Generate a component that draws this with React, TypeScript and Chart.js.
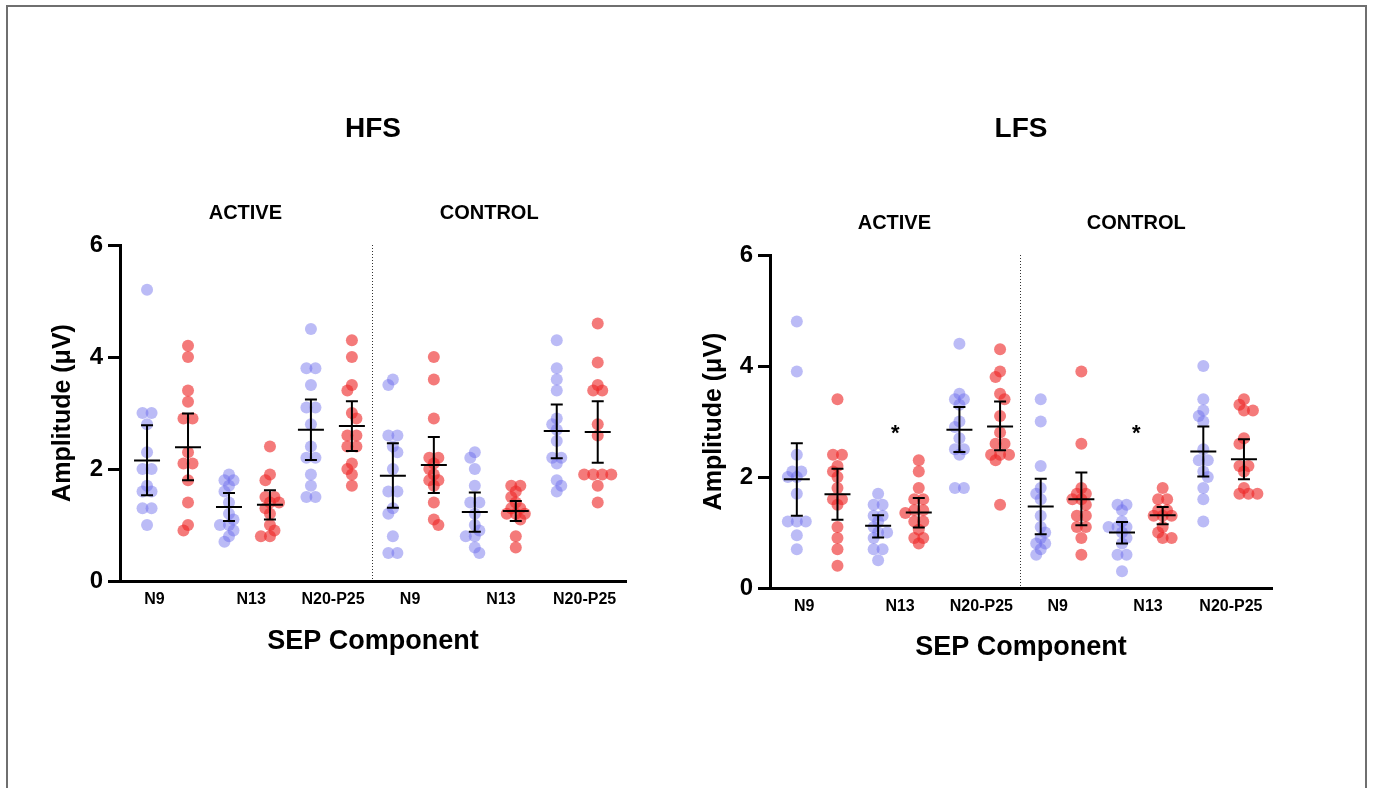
import React, { useEffect, useRef } from "react";
import { Chart, registerables } from "chart.js";

Chart.register(...registerables);

const FONT = "'Liberation Sans', Arial, Helvetica, sans-serif";

// ---------- data ----------
const CONDITIONS = ["ACTIVE", "CONTROL"];
const TICK_LABELS = ["N9", "N13", "N20-P25", "N9", "N13", "N20-P25"];
const TICK_POS = [0.18, 2.54, 4.54, 6.42, 8.64, 10.68];
const CONDITION_LABEL_POS = [2.4, 8.35];
const DIVIDER_POS = 5.5;

// group order: ACTIVE N9, N13, N20-P25, CONTROL N9, N13, N20-P25
const HFS_BLUE: number[][] = [
  [5.2, 3.0, 3.0, 2.8, 2.3, 2.0, 2.0, 1.7, 1.6, 1.6, 1.3, 1.3, 1.0],
  [1.9, 1.8, 1.8, 1.7, 1.6, 1.4, 1.2, 1.1, 1.0, 1.0, 0.9, 0.8, 0.7],
  [4.5, 3.8, 3.8, 3.5, 3.1, 3.1, 2.8, 2.4, 2.2, 2.2, 1.9, 1.7, 1.5, 1.5],
  [3.6, 3.5, 2.6, 2.6, 2.4, 2.3, 2.0, 1.6, 1.6, 1.3, 1.2, 0.8, 0.5, 0.5],
  [2.3, 2.2, 2.0, 1.7, 1.4, 1.4, 1.2, 1.0, 0.9, 0.8, 0.8, 0.6, 0.5],
  [4.3, 3.8, 3.6, 3.4, 2.9, 2.8, 2.7, 2.5, 2.2, 2.2, 2.1, 1.8, 1.7, 1.6],
];
const HFS_RED: number[][] = [
  [4.2, 4.0, 3.4, 3.2, 2.9, 2.9, 2.3, 2.1, 2.1, 1.8, 1.4, 1.0, 0.9],
  [2.4, 1.9, 1.8, 1.5, 1.5, 1.4, 1.4, 1.3, 1.2, 1.0, 0.9, 0.8, 0.8],
  [4.3, 4.0, 3.5, 3.4, 3.0, 2.9, 2.6, 2.6, 2.4, 2.4, 2.1, 2.0, 1.9, 1.7],
  [4.0, 3.6, 2.9, 2.2, 2.2, 2.1, 2.0, 1.9, 1.8, 1.8, 1.7, 1.4, 1.1, 1.0],
  [1.7, 1.7, 1.6, 1.5, 1.4, 1.3, 1.3, 1.2, 1.2, 1.2, 1.1, 0.8, 0.6],
  [4.6, 3.9, 3.5, 3.4, 3.4, 2.8, 2.6, 1.9, 1.9, 1.9, 1.9, 1.7, 1.4],
];
const LFS_BLUE: number[][] = [
  [4.8, 3.9, 2.4, 2.1, 2.1, 2.0, 2.0, 1.7, 1.2, 1.2, 1.2, 0.95, 0.7],
  [1.7, 1.5, 1.5, 1.3, 1.3, 1.2, 1.1, 1.0, 1.0, 0.9, 0.7, 0.7, 0.5],
  [4.4, 3.5, 3.4, 3.4, 3.3, 3.0, 2.9, 2.7, 2.5, 2.5, 2.4, 1.8, 1.8],
  [3.4, 3.0, 2.2, 1.8, 1.7, 1.6, 1.3, 1.1, 1.0, 0.9, 0.8, 0.8, 0.7, 0.6],
  [1.5, 1.5, 1.4, 1.2, 1.1, 1.1, 1.1, 1.0, 0.9, 0.8, 0.6, 0.6, 0.3],
  [4.0, 3.4, 3.2, 3.1, 3.0, 2.5, 2.3, 2.3, 2.1, 2.0, 1.8, 1.6, 1.2],
];
const LFS_RED: number[][] = [
  [3.4, 2.4, 2.4, 2.2, 2.1, 2.0, 1.8, 1.6, 1.6, 1.5, 1.1, 0.9, 0.7, 0.4],
  [2.3, 2.1, 1.8, 1.6, 1.6, 1.4, 1.4, 1.35, 1.2, 1.2, 1.05, 0.9, 0.9, 0.8],
  [4.3, 3.9, 3.8, 3.5, 3.4, 3.1, 2.8, 2.6, 2.6, 2.4, 2.4, 2.4, 2.3, 1.5],
  [3.9, 2.6, 1.8, 1.7, 1.7, 1.6, 1.6, 1.5, 1.3, 1.3, 1.1, 1.1, 0.9, 0.6],
  [1.8, 1.6, 1.6, 1.4, 1.4, 1.3, 1.3, 1.3, 1.1, 1.0, 0.9, 0.9],
  [3.4, 3.3, 3.2, 3.2, 2.7, 2.6, 2.2, 2.2, 2.1, 1.8, 1.7, 1.7, 1.7],
];

// mean and 95% CI, in position order (blue, red for each component)
const HFS_MEAN = [2.15, 2.39, 1.32, 1.36, 2.70, 2.77, 1.88, 2.07, 1.23, 1.25, 2.68, 2.66];
const HFS_CI_LO = [1.53, 1.80, 1.07, 1.10, 2.16, 2.32, 1.31, 1.57, 0.88, 1.07, 2.19, 2.11];
const HFS_CI_HI = [2.78, 2.99, 1.57, 1.62, 3.24, 3.21, 2.46, 2.57, 1.58, 1.43, 3.15, 3.21];
const LFS_MEAN = [1.96, 1.69, 1.12, 1.36, 2.85, 2.91, 1.47, 1.60, 1.00, 1.31, 2.46, 2.32];
const LFS_CI_LO = [1.30, 1.23, 0.91, 1.09, 2.45, 2.48, 0.97, 1.13, 0.80, 1.15, 2.01, 1.96];
const LFS_CI_HI = [2.61, 2.15, 1.31, 1.62, 3.26, 3.36, 1.97, 2.08, 1.19, 1.46, 2.91, 2.68];

// significance marks (LFS only)
const LFS_SIG_X = [2.42, 8.35];
const LFS_SIG_Y = 2.85;

// ---------- helpers ----------
type Pt = { x: number; y: number };

// deterministic beeswarm layout (pixel-space collision avoidance, bounded width)
function swarm(values: number[], center: number, pxX: number, pxY: number): Pt[] {
  const step = 9;
  const minDist = 7;
  const sorted = [...values].sort((a, b) => b - a);
  const rows: number[][] = [];
  sorted.forEach((v) => {
    const last = rows[rows.length - 1];
    if (last && Math.abs(last[0] - v) < 1e-6) last.push(v);
    else rows.push([v]);
  });
  const placed: { ox: number; v: number }[] = [];
  const mags = [0, 4.5, 9, 13.5];
  rows.forEach((row) => {
    const k = row.length;
    const base = row.map((_, j) => (j - (k - 1) / 2) * step);
    const left = placed.filter((q) => q.ox < -0.1).length;
    const right = placed.filter((q) => q.ox > 0.1).length;
    const firstSign = left <= right ? -1 : 1;
    const shifts: number[] = [];
    mags.forEach((m) => {
      if (m === 0) shifts.push(0);
      else {
        shifts.push(firstSign * m);
        shifts.push(-firstSign * m);
      }
    });
    let chosen = 0;
    let bestScore = -1;
    let found = false;
    for (const s of shifts) {
      let dmin = Infinity;
      base.forEach((b) =>
        placed.forEach((q) => {
          const dx = b + s - q.ox;
          const dy = (row[0] - q.v) * pxY;
          dmin = Math.min(dmin, Math.sqrt(dx * dx + dy * dy));
        })
      );
      if (dmin >= minDist) {
        chosen = s;
        found = true;
        break;
      }
      if (dmin > bestScore) {
        bestScore = dmin;
        chosen = s;
      }
    }
    if (!found && bestScore < 0) chosen = 0;
    base.forEach((b) => placed.push({ ox: b + chosen, v: row[0] }));
  });
  return placed.map((q) => ({ x: center + q.ox / pxX, y: q.v }));
}

function buildPoints(groups: number[][], offset: number, pxX: number, pxY: number): Pt[] {
  const out: Pt[] = [];
  groups.forEach((g, i) => out.push(...swarm(g, 2 * i + offset, pxX, pxY)));
  return out;
}

interface PanelSpec {
  title: string;
  blue: number[][];
  red: number[][];
  mean: number[];
  lo: number[];
  hi: number[];
  sigX: number[];
  sigY: number;
  padding: { left: number; right: number; top: number; bottom: number };
  titlePad: { top: number; bottom: number };
  yWidth: number;
  yTitlePad: number;
  xHeight: number;
  pxY: number;
}

function makeConfig(p: PanelSpec): any {
  const annot = {
    id: "annot" + p.title,
    beforeDatasetsDraw(chart: any) {
      const { ctx, chartArea, scales } = chart;
      const x = scales.x.getPixelForValue(DIVIDER_POS);
      ctx.save();
      ctx.strokeStyle = "#333";
      ctx.lineWidth = 1;
      ctx.setLineDash([1, 2]);
      ctx.beginPath();
      ctx.moveTo(Math.round(x) + 0.5, chartArea.top);
      ctx.lineTo(Math.round(x) + 0.5, chartArea.bottom);
      ctx.stroke();
      ctx.restore();
    },
    afterDatasetsDraw(chart: any) {
      const { ctx, chartArea, scales } = chart;
      const xs = scales.x;
      const ys = scales.y;
      ctx.save();
      ctx.strokeStyle = "#000";
      ctx.lineWidth = 2;
      ctx.setLineDash([]);
      for (let i = 0; i < p.mean.length; i++) {
        const x = xs.getPixelForValue(i);
        const ym = ys.getPixelForValue(p.mean[i]);
        const yl = ys.getPixelForValue(p.lo[i]);
        const yh = ys.getPixelForValue(p.hi[i]);
        ctx.beginPath();
        ctx.moveTo(x - 13, ym);
        ctx.lineTo(x + 13, ym);
        ctx.moveTo(x, yl);
        ctx.lineTo(x, yh);
        ctx.moveTo(x - 6, yl);
        ctx.lineTo(x + 6, yl);
        ctx.moveTo(x - 6, yh);
        ctx.lineTo(x + 6, yh);
        ctx.stroke();
      }
      ctx.fillStyle = "#000";
      ctx.textAlign = "center";
      ctx.textBaseline = "middle";
      ctx.font = `bold 20px ${FONT}`;
      CONDITIONS.forEach((c, j) => {
        ctx.fillText(c, xs.getPixelForValue(CONDITION_LABEL_POS[j]), chartArea.top - 32);
      });
      ctx.font = `bold 22px ${FONT}`;
      p.sigX.forEach((sx) => {
        ctx.fillText("*", xs.getPixelForValue(sx), ys.getPixelForValue(p.sigY) + 4);
      });
      ctx.restore();
    },
  };

  const pxX = 40.8;
  return {
    type: "scatter",
    data: {
      datasets: [
        {
          label: "Series A",
          data: buildPoints(p.blue, 0, pxX, p.pxY),
          pointRadius: 6,
          pointHoverRadius: 6,
          pointBackgroundColor: "rgba(105,105,235,0.45)",
          pointBorderColor: "rgba(0,0,0,0)",
          pointBorderWidth: 0,
          showLine: false,
        },
        {
          label: "Series B",
          data: buildPoints(p.red, 1, pxX, p.pxY),
          pointRadius: 6,
          pointHoverRadius: 6,
          pointBackgroundColor: "rgba(238,40,40,0.62)",
          pointBorderColor: "rgba(0,0,0,0)",
          pointBorderWidth: 0,
          showLine: false,
        },
      ],
    },
    options: {
      animation: false,
      responsive: false,
      devicePixelRatio: 1,
      layout: { padding: p.padding },
      plugins: {
        legend: { display: false },
        tooltip: { enabled: false },
        title: {
          display: true,
          text: p.title,
          fullSize: false,
          color: "#000",
          font: { family: FONT, size: 28, weight: "bold" },
          padding: p.titlePad,
        },
      },
      scales: {
        x: {
          type: "linear",
          min: -0.66,
          max: 11.69,
          afterBuildTicks: (s: any) => {
            s.ticks = TICK_POS.map((v) => ({ value: v }));
          },
          afterFit: (s: any) => {
            s.height = p.xHeight;
          },
          ticks: {
            callback: (_v: any, i: number) => TICK_LABELS[i],
            autoSkip: false,
            maxRotation: 0,
            minRotation: 0,
            color: "#000",
            padding: 9,
            font: { family: FONT, size: 16, weight: "bold" },
          },
          grid: { display: true, drawOnChartArea: false, drawTicks: false },
          border: { display: true, color: "#000", width: 3 },
          title: {
            display: true,
            text: "SEP Component",
            color: "#000",
            font: { family: FONT, size: 27, weight: "bold" },
            padding: { top: 0, bottom: 4 },
          },
        },
        y: {
          min: 0,
          max: 6,
          afterFit: (s: any) => {
            s.width = p.yWidth;
          },
          ticks: {
            stepSize: 2,
            color: "#000",
            padding: 5,
            font: { family: FONT, size: 24, weight: "bold" },
          },
          grid: {
            display: true,
            drawOnChartArea: false,
            drawTicks: true,
            tickLength: 12,
            tickWidth: 3,
            tickColor: "#000",
          },
          border: { display: true, color: "#000", width: 3 },
          title: {
            display: true,
            text: "Amplitude (μV)",
            color: "#000",
            font: { family: FONT, size: 25, weight: "bold" },
            padding: { top: p.yTitlePad, bottom: 0 },
          },
        },
      },
    },
    plugins: [annot],
  };
}

export default function App() {
  const ref1 = useRef<HTMLCanvasElement>(null);
  const ref2 = useRef<HTMLCanvasElement>(null);

  useEffect(() => {
    document.body.style.margin = "0";
    const c1 = new Chart(
      ref1.current as HTMLCanvasElement,
      makeConfig({
        title: "HFS",
        blue: HFS_BLUE,
        red: HFS_RED,
        mean: HFS_MEAN,
        lo: HFS_CI_LO,
        hi: HFS_CI_HI,
        sigX: [],
        sigY: 0,
        padding: { left: 40, right: 60, top: 100, bottom: 126 },
        titlePad: { top: 12.2, bottom: 99.2 },
        yWidth: 80,
        yTitlePad: 8.5,
        xHeight: 81,
        pxY: 56,
      })
    );
    const c2 = new Chart(
      ref2.current as HTMLCanvasElement,
      makeConfig({
        title: "LFS",
        blue: LFS_BLUE,
        red: LFS_RED,
        mean: LFS_MEAN,
        lo: LFS_CI_LO,
        hi: LFS_CI_HI,
        sigX: LFS_SIG_X,
        sigY: LFS_SIG_Y,
        padding: { left: 5, right: 101, top: 100, bottom: 120 },
        titlePad: { top: 12.2, bottom: 109.2 },
        yWidth: 79,
        yTitlePad: 8,
        xHeight: 80,
        pxY: 55.5,
      })
    );
    return () => {
      c1.destroy();
      c2.destroy();
    };
  }, []);

  return (
    <div style={{ position: "relative", width: 1373, height: 788, background: "#fff", overflow: "hidden" }}>
      <div
        style={{
          position: "absolute",
          left: 6,
          top: 5,
          width: 1361,
          height: 900,
          boxSizing: "border-box",
          border: "2px solid #6f6f6f",
          borderBottom: "none",
        }}
      />
      <canvas ref={ref1} width={686} height={788} style={{ position: "absolute", left: 0, top: 0 }} />
      <canvas ref={ref2} width={687} height={788} style={{ position: "absolute", left: 686, top: 0 }} />
    </div>
  );
}
